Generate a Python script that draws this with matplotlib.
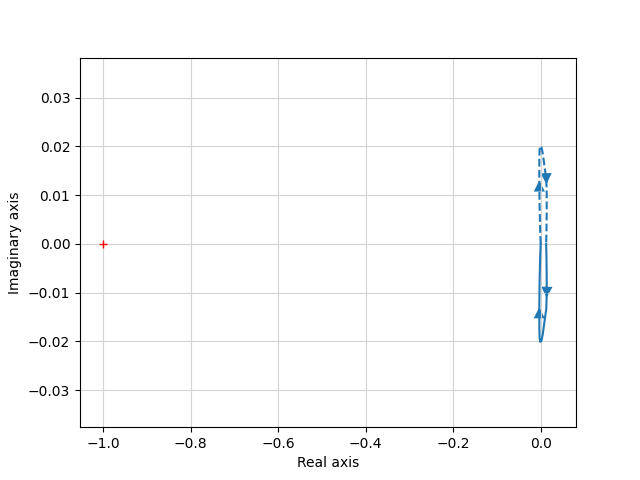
import numpy as np
import matplotlib
matplotlib.use("Agg")
import matplotlib.pyplot as plt
import matplotlib.patches as mpatches

# Positive-frequency Nyquist branch, omega: 0 -> inf
re_pos = [0.0125, 0.0132, 0.0136, 0.0138, 0.0128, 0.0085, 0.0048, 0.0018,
          -0.0008, -0.0025, -0.0031, -0.0032, -0.0031, -0.0026, -0.0016,
          -0.0006, 0.0]
im_pos = [0.0, -0.0030, -0.0060, -0.0100, -0.0133, -0.0160, -0.0185, -0.0198,
          -0.0201, -0.0193, -0.0175, -0.0140, -0.0120, -0.0080, -0.0040,
          -0.0012, 0.0]
# arrow positions (indices into the curves)
solid_arrow_idx = [3, 11]
dashed_arrow_idx = [4, 12]   # indices into the positive branch, mirrored

critical_point = (-1.0, 0.0)

fig, ax = plt.subplots(figsize=(6.4, 4.8), dpi=100)

re_pos = np.array(re_pos)
im_pos = np.array(im_pos)
# Negative-frequency branch: conjugate, traversed in reverse
re_neg = re_pos[::-1]
im_neg = -im_pos[::-1]

ax.plot(re_pos, im_pos, '-', color='C0')
ax.plot(re_neg, im_neg, '--', color='C0')

style = mpatches.ArrowStyle('simple', head_width=8, head_length=8)

def add_arrow(x, y, i):
    tail = (x[i], y[i])
    head = ((x[i] + x[i + 1]) / 2, (y[i] + y[i + 1]) / 2)
    p = mpatches.FancyArrowPatch(tail, head, transform=ax.transData,
                                 arrowstyle=style, color='C0', lw=0)
    ax.add_patch(p)

for i in solid_arrow_idx:
    add_arrow(re_pos, im_pos, i)
n = len(re_pos)
for i in dashed_arrow_idx:
    j = n - 1 - i
    add_arrow(re_neg, im_neg, j)

ax.plot([critical_point[0]], [critical_point[1]], 'r+')

ax.set_xlim(-1.0533, 0.0807)
ax.set_ylim(-0.0376, 0.0382)
ax.set_xticks([-1.0, -0.8, -0.6, -0.4, -0.2, 0.0])
ax.set_yticks([-0.03, -0.02, -0.01, 0.0, 0.01, 0.02, 0.03])
ax.grid(color='lightgray')
ax.set_xlabel('Real axis')
ax.set_ylabel('Imaginary axis')

fig.savefig('out.png')
